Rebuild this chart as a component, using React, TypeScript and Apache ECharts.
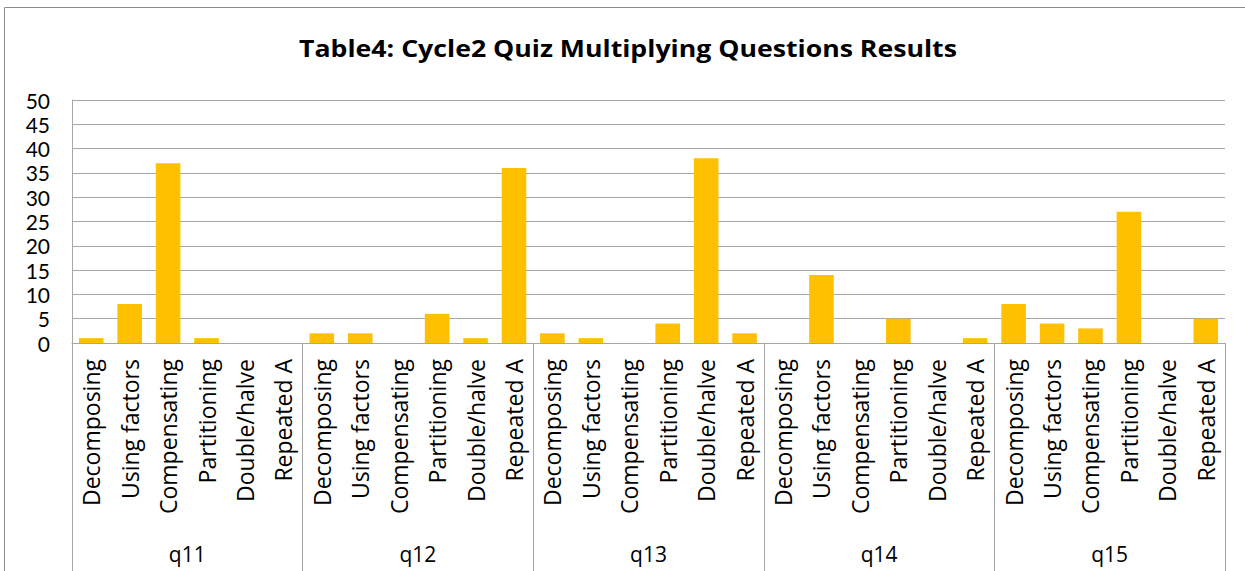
import React, { useEffect, useRef } from "react";
import * as echarts from "echarts";

const methods = ["Decomposing", "Using factors", "Compensating", "Partitioning", "Double/halve", "Repeated A"];
const questions = ["q11", "q12", "q13", "q14", "q15"];
const q11 = [1, 8, 37, 1, 0, 0];
const q12 = [2, 2, 0, 6, 1, 36];
const q13 = [2, 1, 0, 4, 38, 2];
const q14 = [0, 14, 0, 5, 0, 1];
const q15 = [8, 4, 3, 27, 0, 5];
const yTicks = { min: 0, max: 50, interval: 5 };
const title = "Table4: Cycle2 Quiz Multiplying Questions Results";

export default function App() {
  const ref = useRef<HTMLDivElement>(null);
  useEffect(() => {
    if (!ref.current) return;
    const chart = echarts.init(ref.current, null, { renderer: "svg" });
    const groups = [q11, q12, q13, q14, q15];
    const cats: string[] = [];
    const vals: number[] = [];
    groups.forEach((g, gi) => {
      g.forEach((v, i) => {
        cats.push(methods[i] + "\u200B".repeat(gi));
        vals.push(v);
      });
    });
    const font = "'Open Sans', Lato, sans-serif";
    chart.setOption({
      animation: false,
      backgroundColor: "#fff",
      graphic: [
        {
          type: "rect",
          shape: { x: 4.5, y: 7.5, width: 1400, height: 700 },
          style: { fill: "none", stroke: "#8c8c8c", lineWidth: 1 },
          silent: true,
        },
        {
          type: "text",
          x: 628,
          y: 48,
          scaleX: 1.16,
          style: {
            text: title,
            x: 0,
            y: 0,
            align: "center",
            verticalAlign: "middle",
            fontFamily: font,
            fontWeight: "bold",
            fontSize: 23,
            fill: "#000",
          },
          silent: true,
        },
      ],
      grid: { left: 72, right: 20, top: 100, bottom: 228, containLabel: false },
      xAxis: [
        {
          type: "category",
          data: cats,
          position: "bottom",
          axisLine: { show: true, lineStyle: { color: "#a6a6a6", width: 1 } },
          axisTick: { show: false },
          axisLabel: {
            interval: 0,
            rotate: 90,
            margin: 16,
            fontFamily: font,
            fontSize: 23,
            color: "#000",
            formatter: (v: string) => v.replace(/\u200B/g, ""),
          },
        },
        {
          type: "category",
          data: questions,
          position: "bottom",
          axisLine: { show: false },
          axisTick: { show: true, interval: 0, length: 240, lineStyle: { color: "#a6a6a6", width: 1 } },
          axisLabel: { interval: 0, margin: 200, fontFamily: font, fontSize: 21, color: "#000" },
        },
      ],
      yAxis: {
        type: "value",
        min: yTicks.min,
        max: yTicks.max,
        interval: yTicks.interval,
        axisLine: { show: true, lineStyle: { color: "#a6a6a6", width: 1 } },
        axisTick: { show: false },
        splitLine: { show: true, lineStyle: { color: "#a6a6a6", width: 1 } },
        axisLabel: { margin: 22, fontFamily: "Lato, sans-serif", fontSize: 21, lineHeight: 20, color: "#000" },
      },
      series: [
        {
          type: "bar",
          xAxisIndex: 0,
          data: vals,
          barWidth: "64%",
          itemStyle: { color: "#FFC000" },
        },
      ],
    });
    return () => chart.dispose();
  }, []);
  return <div ref={ref} style={{ position: "fixed", left: 0, top: 0, width: 1245, height: 571 }} />;
}
